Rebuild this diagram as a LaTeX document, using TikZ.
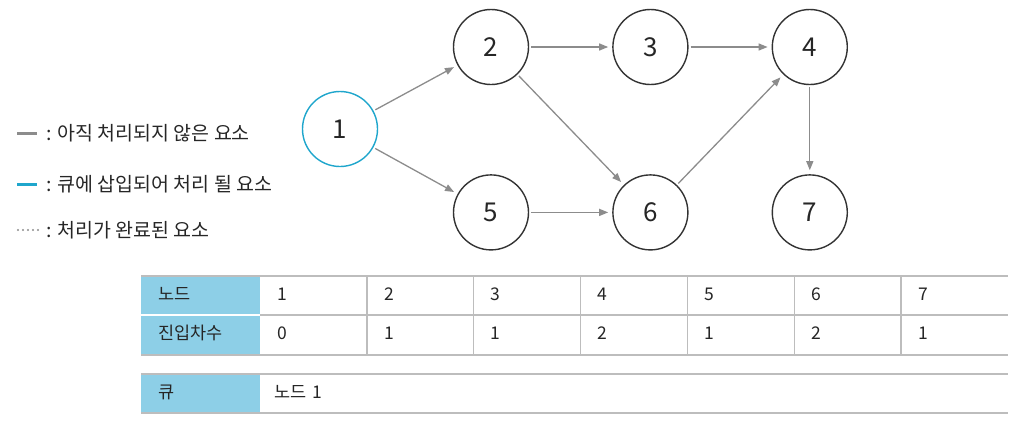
\documentclass[tikz,border=0pt]{standalone}
\usepackage{fontspec}
\setmainfont{Noto Sans CJK KR}
\usetikzlibrary{arrows.meta,positioning}
\definecolor{qblue}{HTML}{1FA6CC}
\definecolor{headfill}{HTML}{8DCFE7}
\definecolor{edgegray}{HTML}{8C8C8C}
\definecolor{gridgray}{HTML}{BDBDBD}
\definecolor{txt}{HTML}{262626}

\begin{document}
\begin{tikzpicture}[
    x=1pt, y=-1pt,
    node distance=89pt and 83pt,
    vertex/.style={circle, draw=black!80, line width=1.4pt, minimum size=75pt, inner sep=0pt, text=txt, font=\fontsize{26}{26}\selectfont},
    queued/.style={vertex, draw=qblue},
    edge/.style={-{Triangle[length=9pt,width=7pt]}, draw=edgegray, line width=1.3pt, shorten >=4pt, shorten <=2pt},
    legendtext/.style={anchor=west, inner sep=0pt, text=txt, font=\fontsize{19.5}{19.5}\selectfont},
    cell/.style={anchor=north west, minimum height=39pt, inner xsep=17pt, inner ysep=0pt, text width=72.86pt, text height=13pt, text depth=4pt, align=left, text=txt, font=\fontsize{17.5}{17.5}\selectfont},
    headcell/.style={cell, fill=headfill, text width=85pt},
    grid/.style={draw=gridgray, line width=1.5pt}
  ]
    \useasboundingbox (0,0) rectangle (1021,424);

    % graph
    \node[queued] (n1) at (340,129) {1};
    \node[vertex] (n2) at (491,47) {2};
    \node[vertex, right=of n2] (n3) {3};
    \node[vertex, right=of n3] (n4) {4};
    \node[vertex, below=of n2] (n5) {5};
    \node[vertex, below=of n3] (n6) {6};
    \node[vertex, below=of n4] (n7) {7};

    \draw[edge] (n1) -- (n2);
    \draw[edge] (n1) -- (n5);
    \draw[edge] (n2) -- (n3);
    \draw[edge] (n3) -- (n4);
    \draw[edge] (n2) -- (n6);
    \draw[edge] (n5) -- (n6);
    \draw[edge] (n6) -- (n4);
    \draw[edge] (n4) -- (n7);

    % legend
    \node[legendtext] (lg1) at (46,133) {: 아직 처리되지 않은 요소};
    \node[legendtext] (lg2) at (46,184) {: 큐에 삽입되어 처리 될 요소};
    \node[legendtext] (lg3) at (46,230) {: 처리가 완료된 요소};
    \draw[edgegray, line width=3pt] (17,133) -- (37,133);
    \draw[qblue, line width=3pt] (17,184) -- (37,184);
    \draw[edgegray, line width=2.4pt, line cap=round, dash pattern=on 0pt off 5pt] (18,230) -- (38,230);

    % indegree table
    \node[headcell] (hnode) at (141,276) {노드};
    \node[headcell] (hdeg) at (141,315) {진입차수};
    \foreach \v [count=\i] in {1,...,7}
      \node[cell] (c\i) at ({260+(\i-1)*106.86},276) {\v};
    \foreach \v [count=\i] in {0,1,1,2,1,2,1}
      \node[cell] (d\i) at ({260+(\i-1)*106.86},315) {\v};
    \draw[white, line width=1.5pt] (141,315) -- (260,315);
    \draw[grid] (141,276) -- (1008,276);
    \draw[grid] (260,315) -- (1008,315);
    \draw[grid] (141,355) -- (1008,355);
    \foreach \i in {2,...,7}
      \draw[grid] (c\i.north west) -- (d\i.south west);

    % queue
    \node[headcell] (hq) at (141,374) {큐};
    \node[cell, inner xsep=14pt, text width=300pt] (q) at (260,374) {노드 1};
    \draw[grid] (141,374) -- (1008,374);
    \draw[grid] (141,413) -- (1008,413);
  \end{tikzpicture}
\end{document}
